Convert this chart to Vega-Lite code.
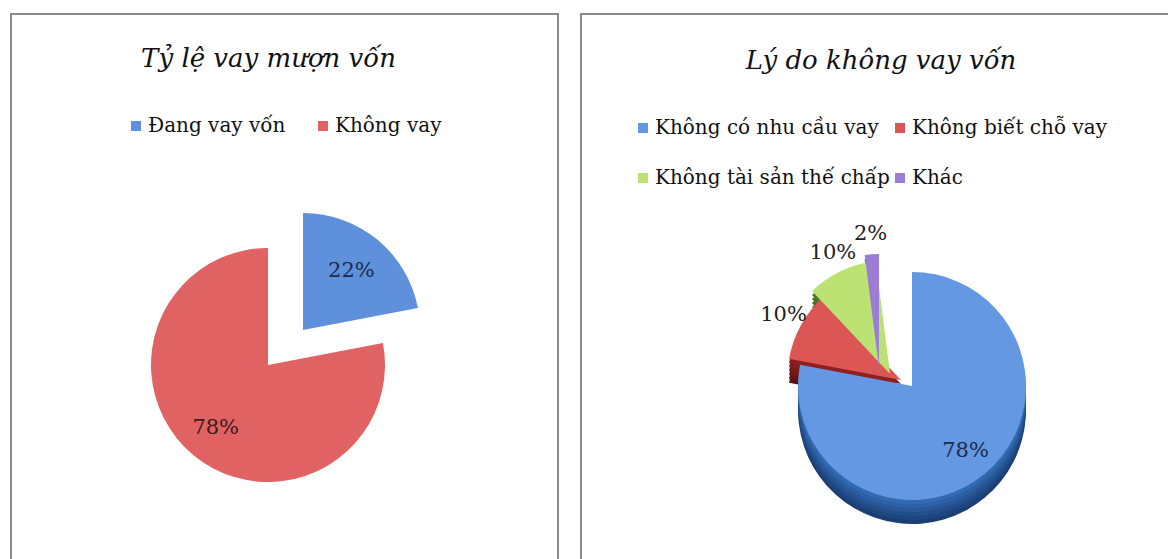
{
  "$schema": "https://vega.github.io/schema/vega-lite/v6.json",
  "padding": {"left": 10, "top": 13, "right": 0, "bottom": 0},
  "background": "white",
  "config": {
    "view": {"stroke": "#8a8a8a", "strokeWidth": 2},
    "font": "DejaVu Serif",
    "title": {"font": "DejaVu Serif", "fontStyle": "italic", "fontWeight": "normal", "fontSize": 26, "color": "#111", "baseline": "alphabetic"},
    "legend": {"labelFont": "DejaVu Serif", "labelFontSize": 20, "labelColor": "#111", "labelLimit": 0, "symbolType": "square", "symbolSize": 100, "symbolStrokeWidth": 0, "padding": 0, "labelOffset": 2, "titlePadding": 0}
  },
  "spacing": 21,
  "resolve": {"scale": {"x": "independent", "y": "independent", "color": "independent", "theta": "independent"}, "legend": {"color": "independent"}},
  "hconcat": [
    {
      "width": 547,
      "height": 560,
      "title": {"text": "Tỷ lệ vay mượn vốn", "offset": -58, "dx": -16},
      "data": {"values": [
        {"name": "Đang vay vốn", "value": 22, "label": "22%", "order": 1},
        {"name": "Không vay", "value": 78, "label": "78%", "order": 2}
      ]},
      "encoding": {
        "theta": {"field": "value", "type": "quantitative", "stack": true},
        "order": {"field": "order", "type": "quantitative"},
        "x": {"field": "name", "type": "nominal", "axis": null, "scale": {"type": "point", "padding": 0, "domain": ["Đang vay vốn", "Không vay"], "range": [292, 257]}},
        "y": {"field": "name", "type": "nominal", "axis": null, "scale": {"type": "point", "padding": 0, "domain": ["Đang vay vốn", "Không vay"], "range": [316, 351]}}
      },
      "layer": [
        {
          "mark": {"type": "arc", "radius": 117},
          "encoding": {
            "color": {"field": "name", "type": "nominal", "title": null,
              "scale": {"domain": ["Đang vay vốn", "Không vay"], "range": ["#5f90dc", "#e06262"]},
              "legend": {"orient": "none", "legendX": 115, "legendY": 102, "direction": "horizontal", "columnPadding": 27}}
          }
        },
        {
          "mark": {"type": "text", "radius": 76, "fontSize": 21, "color": "#1c2c4c"},
          "encoding": {"text": {"condition": {"test": "datum.name === 'Đang vay vốn'", "field": "label"}, "value": ""}}
        },
        {
          "mark": {"type": "text", "radius": 82, "fontSize": 21, "color": "#3a1c1c"},
          "encoding": {"text": {"condition": {"test": "datum.name === 'Không vay'", "field": "label"}, "value": ""}}
        }
      ]
    },
    {
      "width": 600,
      "height": 560,
      "title": {"text": "Lý do không vay vốn", "offset": -60},
      "data": {"values": [
        {"name": "Không có nhu cầu vay", "value": 78, "label": "78%", "order": 1},
        {"name": "Không biết chỗ vay", "value": 10, "label": "10%", "order": 2},
        {"name": "Không tài sản thế chấp", "value": 10, "label": "10%", "order": 3},
        {"name": "Khác", "value": 2, "label": "2%", "order": 4}
      ]},
      "encoding": {
        "theta": {"field": "value", "type": "quantitative", "stack": true},
        "order": {"field": "order", "type": "quantitative"},
        "x": {"field": "name", "type": "nominal", "axis": null, "scale": {"type": "point", "padding": 0, "domain": ["Không có nhu cầu vay", "Không biết chỗ vay", "Không tài sản thế chấp", "Khác"], "range": [331, 298, 315, 329]}},
        "y": {"field": "name", "type": "nominal", "axis": null, "scale": {"type": "point", "padding": 0, "domain": ["Không có nhu cầu vay", "Không biết chỗ vay", "Không tài sản thế chấp", "Khác"], "range": [372, 354, 338, 334]}}
      },
      "resolve": {"scale": {"color": "independent"}},
      "layer": [
        {"mark": {"type": "arc", "radius": 114, "yOffset": 24}, "encoding": {"color": {"field": "name", "type": "nominal", "legend": null, "scale": {"domain": ["Không có nhu cầu vay", "Không biết chỗ vay", "Không tài sản thế chấp", "Khác"], "range": ["#1c3f73", "#5a1010", "#3a561c", "#3a2966"]}}}},
        {"mark": {"type": "arc", "radius": 114, "yOffset": 20}, "encoding": {"color": {"field": "name", "type": "nominal", "legend": null, "scale": {"domain": ["Không có nhu cầu vay", "Không biết chỗ vay", "Không tài sản thế chấp", "Khác"], "range": ["#1f4680", "#661414", "#3f5e1f", "#40306f"]}}}},
        {"mark": {"type": "arc", "radius": 114, "yOffset": 16}, "encoding": {"color": {"field": "name", "type": "nominal", "legend": null, "scale": {"domain": ["Không có nhu cầu vay", "Không biết chỗ vay", "Không tài sản thế chấp", "Khác"], "range": ["#234e8c", "#701818", "#436521", "#453575"]}}}},
        {"mark": {"type": "arc", "radius": 114, "yOffset": 12}, "encoding": {"color": {"field": "name", "type": "nominal", "legend": null, "scale": {"domain": ["Không có nhu cầu vay", "Không biết chỗ vay", "Không tài sản thế chấp", "Khác"], "range": ["#285898", "#7a1a1a", "#486c24", "#4a3a7c"]}}}},
        {"mark": {"type": "arc", "radius": 114, "yOffset": 8}, "encoding": {"color": {"field": "name", "type": "nominal", "legend": null, "scale": {"domain": ["Không có nhu cầu vay", "Không biết chỗ vay", "Không tài sản thế chấp", "Khác"], "range": ["#2d61a5", "#841d1d", "#4c7226", "#4f3e82"]}}}},
        {"mark": {"type": "arc", "radius": 114, "yOffset": 4}, "encoding": {"color": {"field": "name", "type": "nominal", "legend": null, "scale": {"domain": ["Không có nhu cầu vay", "Không biết chỗ vay", "Không tài sản thế chấp", "Khác"], "range": ["#336bb3", "#8e2020", "#517a28", "#544288"]}}}},
        {
          "mark": {"type": "arc", "radius": 114},
          "encoding": {
            "color": {"field": "name", "type": "nominal", "title": null,
              "scale": {"domain": ["Không có nhu cầu vay", "Không biết chỗ vay", "Không tài sản thế chấp", "Khác"], "range": ["#6598e2", "#dc5656", "#bce274", "#9c7dd6"]},
              "legend": {"orient": "none", "legendX": 52, "legendY": 104, "direction": "horizontal", "columns": 2, "gridAlign": "none", "columnPadding": 0, "rowPadding": 30}}
          }
        },
        {
          "mark": {"type": "text", "radius": 84, "fontSize": 21, "color": "#1c2c4c"},
          "encoding": {"text": {"condition": {"test": "datum.name === 'Không có nhu cầu vay'", "field": "label"}, "value": ""}}
        },
        {
          "mark": {"type": "text", "radius": 134, "fontSize": 21, "color": "#222222"},
          "encoding": {"text": {"condition": {"test": "datum.name !== 'Không có nhu cầu vay'", "field": "label"}, "value": ""}}
        }
      ]
    }
  ]
}
